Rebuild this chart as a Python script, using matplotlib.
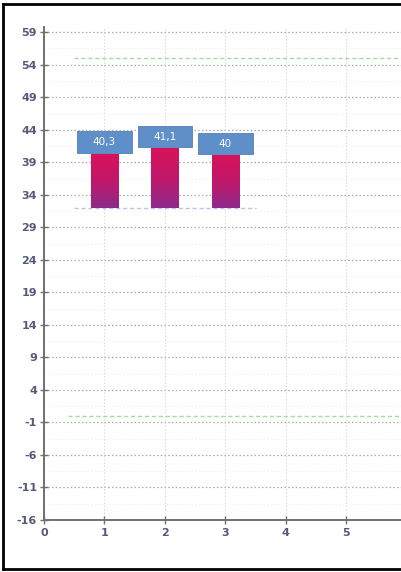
import numpy as np
import matplotlib.pyplot as plt
from matplotlib.patches import Rectangle
from matplotlib.lines import Line2D
from matplotlib.colors import LinearSegmentedColormap

# Data
categories = [1, 2, 3]
values = [40.3, 41.1, 40.0]
value_labels = ["40,3", "41,1", "40"]
base_value = 32.0
upper_ref = 55.0
lower_ref = 0.0
y_ticks = [59, 54, 49, 44, 39, 34, 29, 24, 19, 14, 9, 4, -1, -6, -11, -16]
x_ticks = [0, 1, 2, 3, 4, 5, 6]

W, H = 401, 572
fig = plt.figure(figsize=(W / 100, H / 100), dpi=100)
fig.patch.set_facecolor("white")

left_px, right_px, top_px, bottom_px = 44, 425, 27, 520
ax = fig.add_axes([left_px / W, 1 - bottom_px / H,
                   (right_px - left_px) / W, (bottom_px - top_px) / H])
ax.set_facecolor("white")

# grid
for y in y_ticks:
    ax.axhline(y, color="#a8a8a8", lw=0.9, ls=(0, (1.2, 1.8)), zorder=0)
for x in x_ticks[1:]:
    ax.axvline(x, color="#d8d8d8", lw=0.8, ls=(0, (1.2, 1.8)), zorder=0)
for y in np.array(y_ticks[:-1]) - 2.5:
    ax.axhline(y, color="#efefef", lw=0.7, ls=(0, (1.2, 2.5)), zorder=0)

# reference lines
ax.plot([0.5, 6.3], [upper_ref, upper_ref], color="#a4dca4", lw=1.0,
        ls=(0, (3, 2)), zorder=1)
ax.plot([0.4, 6.3], [lower_ref, lower_ref], color="#a4dca4", lw=1.0,
        ls=(0, (3, 2)), zorder=1)
ax.plot([0.5, 3.5], [base_value, base_value], color="#b8c6ec", lw=1.0,
        ls=(0, (3, 2)), zorder=1)

# gradient bars with value boxes
bar_w = 0.46
grad = np.linspace(0, 1, 256).reshape(-1, 1)
cmap = LinearSegmentedColormap.from_list("bar", ["#8c2b8b", "#c0186a", "#d8125a"])
for x, v, lab in zip(categories, values, value_labels):
    ax.imshow(grad, extent=(x - bar_w / 2, x + bar_w / 2, base_value, v),
              origin="lower", cmap=cmap, aspect="auto", zorder=3)
    bw, bh = 0.9, 3.3
    ax.add_patch(Rectangle((x - bw / 2, v + 0.2), bw, bh, facecolor="#5f8fc9",
                           edgecolor="#5080bc", lw=0.6, zorder=4))
    ax.text(x, v + 0.2 + bh / 2, lab, color="white", ha="center", va="center",
            fontsize=7.5, family="DejaVu Sans", zorder=5)
ax.set_aspect("auto")
ax.set_xlim(0, 6.3)
ax.set_ylim(-16, 59.8)

# axes styling
for s in ["top", "right"]:
    ax.spines[s].set_visible(False)
for s in ["left", "bottom"]:
    ax.spines[s].set_color("#707070")
    ax.spines[s].set_linewidth(1.4)
ax.set_yticks(y_ticks)
ax.set_xticks(x_ticks)
ax.set_yticklabels([str(t) for t in y_ticks])
ax.set_xticklabels([str(t) for t in x_ticks])
ax.tick_params(axis="both", direction="inout", length=6, width=1.0,
               color="#707070", labelcolor="#555a78", labelsize=8)
ax.tick_params(axis="y", pad=2)
ax.tick_params(axis="x", pad=3)
for t in ax.get_xticklabels() + ax.get_yticklabels():
    t.set_fontweight("bold")

# frame around the figure (open on the right)
frame_kw = dict(color="black", lw=2.0, transform=fig.transFigure)
fig.add_artist(Line2D([3.5 / W, 3.5 / W], [1 - 3.5 / H, 1 - 569 / H], **frame_kw))
fig.add_artist(Line2D([3.5 / W, 1.0], [1 - 3.5 / H, 1 - 3.5 / H], **frame_kw))
fig.add_artist(Line2D([3.5 / W, 1.0], [1 - 569 / H, 1 - 569 / H], **frame_kw))

fig.savefig("out.png", dpi=100)
